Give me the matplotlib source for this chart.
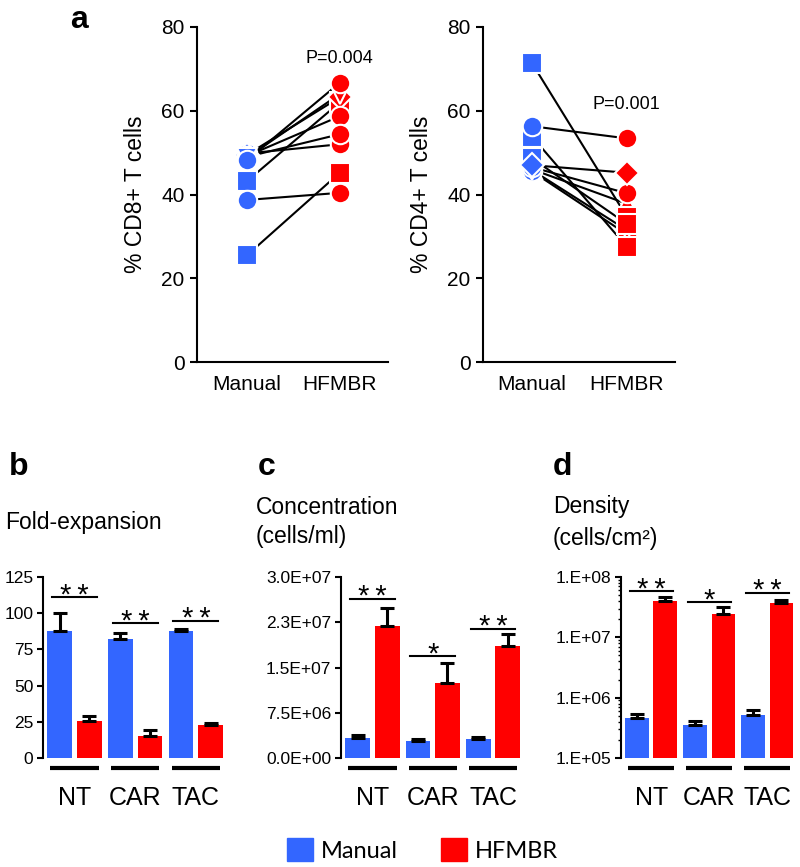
import numpy as np
import matplotlib
matplotlib.use("Agg")
import matplotlib.pyplot as plt
from matplotlib.patches import Patch
from matplotlib.ticker import FuncFormatter, LogLocator, NullFormatter

plt.rcParams["font.family"] = ["Liberation Sans", "DejaVu Sans"]

BLUE = "#3366ff"
RED = "#ff0000"

# panel a: paired donors, Manual -> HFMBR (one marker shape per donor)
pair_labels = ["Manual", "HFMBR"]
cd8_manual = [43.2, 49.8, 49.5, 49.2, 49.0, 48.8, 48.2, 38.7, 25.5]
cd8_hfmbr = [62.0, 52.0, 63.2, 58.7, 54.4, 64.0, 66.7, 40.4, 45.2]
cd8_markers = ["s", "o", "D", "o", "o", "v", "o", "o", "s"]
cd8_p = "P=0.004"

cd4_manual = [46.0, 45.5, 45.8, 46.5, 53.8, 71.3, 56.3, 48.6, 47.0]
cd4_hfmbr = [37.8, 30.5, 31.5, 40.3, 27.5, 34.7, 53.4, 33.0, 45.2]
cd4_markers = ["^", "o", "v", "o", "s", "s", "o", "s", "D"]
cd4_p = "P=0.001"

# panels b-d: mean + SD per cell product
groups = ["NT", "CAR", "TAC"]

fold_manual = [88.0, 82.0, 87.5]
fold_manual_err = [12.0, 4.5, 1.5]
fold_hfmbr = [25.5, 15.0, 22.5]
fold_hfmbr_err = [3.5, 4.5, 2.0]
fold_sig = ["**", "**", "**"]
fold_sig_y = [111, 93, 94.5]

conc_manual = [3.3e6, 2.75e6, 3.1e6]
conc_manual_err = [0.5e6, 0.4e6, 0.3e6]
conc_hfmbr = [2.19e7, 1.24e7, 1.86e7]
conc_hfmbr_err = [3.0e6, 3.3e6, 1.9e6]
conc_sig = ["**", "*", "**"]
conc_sig_y = [2.64e7, 1.69e7, 2.14e7]

dens_manual = [4.6e5, 3.55e5, 5.1e5]
dens_manual_err = [0.7e5, 0.55e5, 1.1e5]
dens_hfmbr = [4.0e7, 2.4e7, 3.7e7]
dens_hfmbr_err = [0.6e7, 0.8e7, 0.4e7]
dens_sig = ["**", "*", "**"]
dens_sig_y = [5.8e7, 3.8e7, 5.4e7]

W, H = 800, 867


def rect(left, right, top, bottom):
    # pixel box -> figure fraction
    return [left / W, 1 - bottom / H, (right - left) / W, (bottom - top) / H]


def paired_panel(ax, manual, hfmbr, markers, ylabel, ptext, py):
    for m, h in zip(manual, hfmbr):
        ax.plot([0, 1], [m, h], color="black", lw=1.5, zorder=1)
    for i, (m, h, mk) in enumerate(zip(manual, hfmbr, markers)):
        ms = 12 if mk == "D" else 14
        ax.plot(0, m, marker=mk, ms=ms, color=BLUE, mec="white", mew=1.5, ls="none", zorder=2 + i)
        ax.plot(1, h, marker=mk, ms=ms, color=RED, mec="white", mew=1.5, ls="none", zorder=2 + i)
    ax.text(1, py, ptext, ha="center", va="center", fontsize=13)
    ax.set_ylim(0, 80)
    ax.set_yticks(range(0, 81, 20))
    ax.set_xticks([0, 1])
    ax.set_xticklabels(pair_labels)
    ax.set_ylabel(ylabel, fontsize=16.5, labelpad=10)
    for s in ["top", "right"]:
        ax.spines[s].set_visible(False)
    for s in ["left", "bottom"]:
        ax.spines[s].set_linewidth(1.5)
    ax.tick_params(axis="y", length=5, width=1.5, labelsize=15, pad=4)
    ax.tick_params(axis="x", length=0, labelsize=15, pad=9)


def bar_panel(ax, man, man_err, hf, hf_err, sig, sig_y):
    x = np.arange(len(groups))
    ekw = dict(ecolor="black", elinewidth=2.2, capsize=5, capthick=2.2)
    ax.bar(x - 0.245, man, 0.41, color=BLUE, yerr=[np.zeros(len(x)), man_err], error_kw=ekw)
    ax.bar(x + 0.245, hf, 0.41, color=RED, yerr=[np.zeros(len(x)), hf_err], error_kw=ekw)
    trans = ax.get_xaxis_transform()
    for xi, s, sy in zip(x, sig, sig_y):
        ax.plot([xi - 0.37, xi + 0.37], [sy, sy], color="black", lw=1.5)
        ax.annotate("\u2009".join(s), (xi, sy), xytext=(0, -4.5), textcoords="offset points",
                    ha="center", va="baseline", fontsize=21)
        ax.plot([xi - 0.4, xi + 0.4], [-0.055, -0.055], transform=trans, clip_on=False,
                color="black", lw=3, solid_capstyle="butt")
    ax.set_xticks(x)
    ax.set_xticklabels(groups)
    ax.set_xlim(-0.52, 2.53)
    for s in ["top", "right", "bottom"]:
        ax.spines[s].set_visible(False)
    ax.spines["left"].set_linewidth(1.5)
    ax.tick_params(axis="y", length=4, width=1.5, labelsize=12.5, pad=3)
    ax.tick_params(axis="x", length=0, labelsize=18, pad=20)


fig = plt.figure(figsize=(8, 8.67), dpi=100)

# panel a
ax1 = fig.add_axes(rect(197, 388, 27, 362))
paired_panel(ax1, cd8_manual, cd8_hfmbr, cd8_markers, "% CD8+ T cells", cd8_p, 72.5)
ax1.set_xlim(-0.54, 1.52)
ax2 = fig.add_axes(rect(483, 675, 27, 362))
paired_panel(ax2, cd4_manual, cd4_hfmbr, cd4_markers, "% CD4+ T cells", cd4_p, 61.6)
ax2.set_xlim(-0.52, 1.51)

# panel b
axb = fig.add_axes(rect(43, 228, 577, 758))
bar_panel(axb, fold_manual, fold_manual_err, fold_hfmbr, fold_hfmbr_err, fold_sig, fold_sig_y)
axb.set_ylim(0, 125)
axb.set_yticks(range(0, 126, 25))

# panel c
axc = fig.add_axes(rect(341, 525, 577, 758))
bar_panel(axc, conc_manual, conc_manual_err, conc_hfmbr, conc_hfmbr_err, conc_sig, conc_sig_y)
axc.set_ylim(0, 3.0e7)
axc.set_yticks(np.arange(0, 3.0e7 + 1, 7.5e6))
axc.yaxis.set_major_formatter(FuncFormatter(lambda v, _: f"{v * (1 + 1e-9):.1E}"))

# panel d
axd = fig.add_axes(rect(621, 798, 577, 758))
axd.set_yscale("log")
bar_panel(axd, dens_manual, dens_manual_err, dens_hfmbr, dens_hfmbr_err, dens_sig, dens_sig_y)
axd.set_ylim(1e5, 1e8)
axd.set_yticks([1e5, 1e6, 1e7, 1e8])
axd.yaxis.set_major_formatter(FuncFormatter(lambda v, _: f"1.E+{int(round(np.log10(v))):02d}"))
axd.yaxis.set_minor_locator(LogLocator(base=10, subs=np.arange(2, 10)))
axd.yaxis.set_minor_formatter(NullFormatter())
axd.tick_params(axis="y", which="minor", length=2.5, width=1)

# panel letters and titles
lab = dict(fontweight="bold", fontsize=23, va="center", ha="left")
fig.text(70 / W, 1 - 20 / H, "a", **lab)
fig.text(9 / W, 1 - 467 / H, "b", **lab)
fig.text(258 / W, 1 - 467 / H, "c", **lab)
fig.text(553 / W, 1 - 467 / H, "d", **lab)

tt = dict(fontsize=16.5, va="center", ha="left")
fig.text(5 / W, 1 - 522 / H, "Fold-expansion", **tt)
fig.text(256 / W, 1 - 507 / H, "Concentration", **tt)
fig.text(256 / W, 1 - 537 / H, "(cells/ml)", **tt)
fig.text(553 / W, 1 - 507 / H, "Density", **tt)
fig.text(553 / W, 1 - 538 / H, "(cells/cm²)", **tt)

fig.legend(handles=[Patch(color=BLUE, label="Manual"), Patch(color=RED, label="HFMBR")],
           loc="center", bbox_to_anchor=(0.528, 1 - 850 / H), ncol=2, frameon=False,
           prop=dict(family="Lato", size=17), handlelength=1.1, handleheight=1.1,
           handletextpad=0.35, columnspacing=1.8)

fig.savefig("out.png", dpi=100)
